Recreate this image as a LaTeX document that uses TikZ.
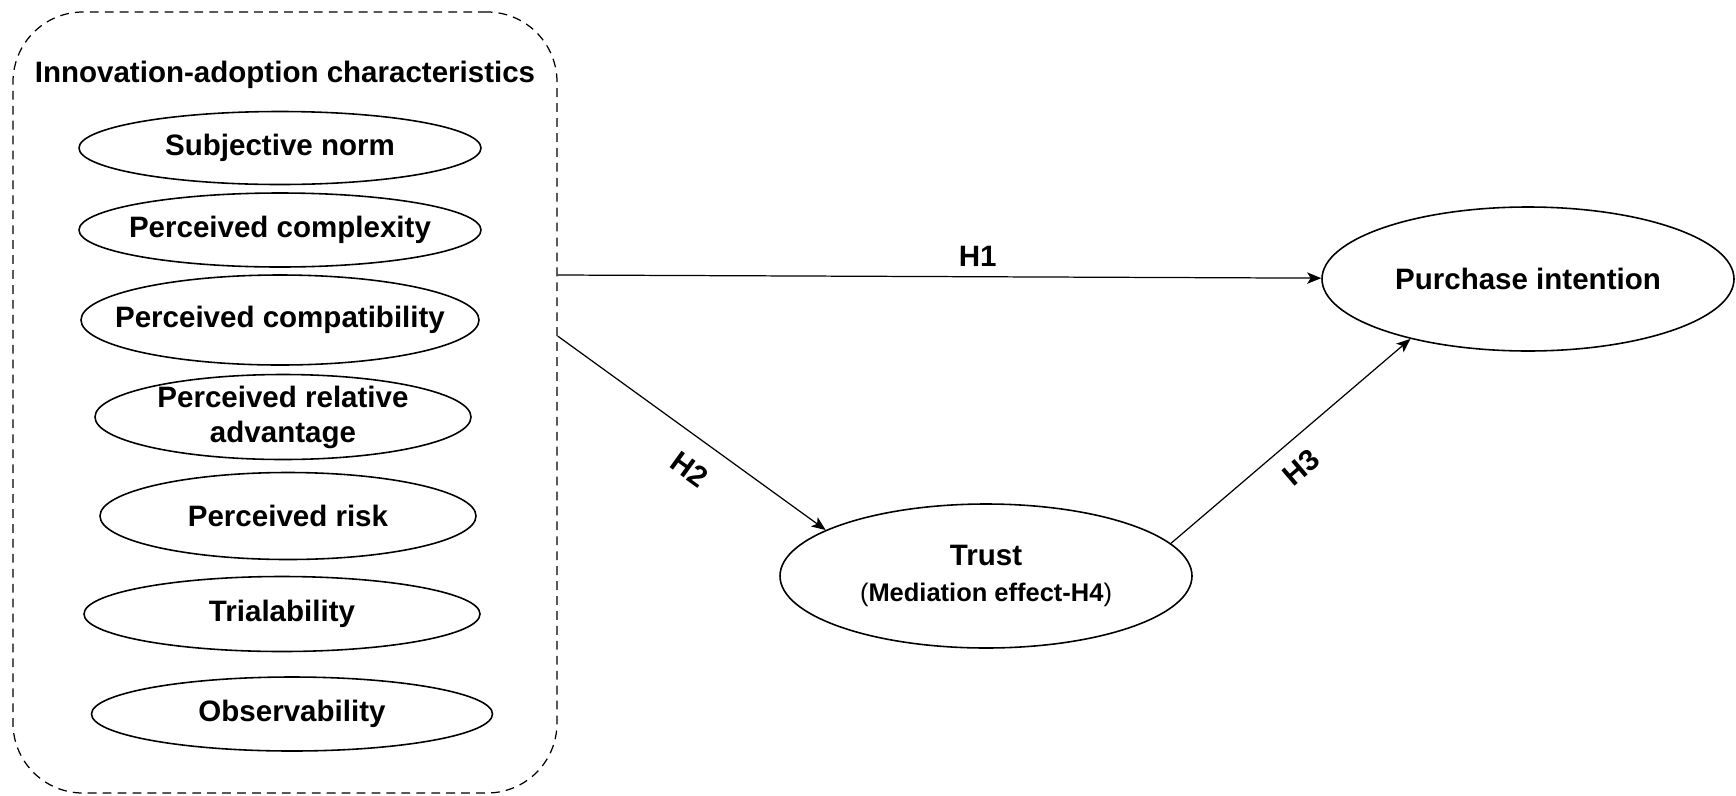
\documentclass[tikz,border=0pt]{standalone}
\usepackage{fontspec}
\setmainfont{Liberation Sans}
\usetikzlibrary{shapes,arrows,arrows.meta}
\usetikzlibrary{positioning}
\tikzstyle{group} = [rectangle, draw, dash pattern=on 5pt off 3.5pt,
    rounded corners=1.4cm, line width=0.7pt,
    minimum width=10.88cm, minimum height=15.62cm]
\tikzstyle{heading} = [font=\bfseries\fontsize{16.8}{20}\selectfont]
\tikzstyle{factor} = [ellipse, draw, line width=0.9pt, inner xsep=-3cm, inner ysep=-1cm,
    align=center, font=\bfseries\fontsize{16.8}{20}\selectfont]
\tikzstyle{construct} = [ellipse, draw, line width=0.9pt, inner sep=0pt,
    minimum width=8.24cm, minimum height=2.88cm, align=center,
    font=\bfseries\fontsize{16.8}{21}\selectfont]
\tikzstyle{line} = [draw, line width=0.7pt, -{Stealth[length=8pt,width=6.5pt,inset=2pt]}]
\tikzstyle{hyp} = [font=\bfseries\fontsize{16.8}{20}\selectfont, sloped]

\begin{document}
\begin{tikzpicture}
    \useasboundingbox (0,0) rectangle (34.72,-15.9);
    % Place nodes
    \node [group] (box) at (5.70,-8.05) {};
    \node [heading] (title) at (5.70,-1.50) {Innovation-adoption characteristics};
    \node [factor, minimum width=8.04cm, minimum height=1.46cm] (sn) at (5.60,-2.96) {Subjective norm};
    \node [factor, minimum width=8.04cm, minimum height=1.48cm] (pcx) at (5.60,-4.60) {Perceived complexity};
    \node [factor, minimum width=7.96cm, minimum height=1.80cm] (pcp) at (5.60,-6.40) {Perceived compatibility};
    \node [factor, minimum width=7.52cm, minimum height=1.70cm] (pra) at (5.66,-8.34) {Perceived relative\\advantage};
    \node [factor, minimum width=7.52cm, minimum height=1.74cm] (pr) at (5.76,-10.32) {Perceived risk};
    \node [factor, minimum width=7.92cm, minimum height=1.50cm] (tri) at (5.64,-12.28) {Trialability};
    \node [factor, minimum width=8.02cm, minimum height=1.48cm] (obs) at (5.84,-14.28) {Observability};
    \node [construct] (pi) at (30.56,-5.58) {Purchase intention};
    \node [construct] (trust) at (19.72,-11.52) {Trust\\{\fontsize{14.5}{17}\selectfont{\mdseries(}Mediation effect-H4{\mdseries)}}};
    \coordinate (h1s) at ([yshift=2.55cm]box.east);
    \coordinate (h2s) at ([yshift=1.33cm]box.east);

    % Draw edges
    \path [line] (h1s) -- node [hyp, pos=0.55, above=0.08cm] {H1} (pi);
    \path [line] (h2s) -- node [hyp, pos=0.56, below=0.28cm] {H2} (trust.164);
    \path [line] (trust.10) -- node [hyp, pos=0.47, below=0.2cm] {H3} (pi.207);
\end{tikzpicture}
\end{document}
